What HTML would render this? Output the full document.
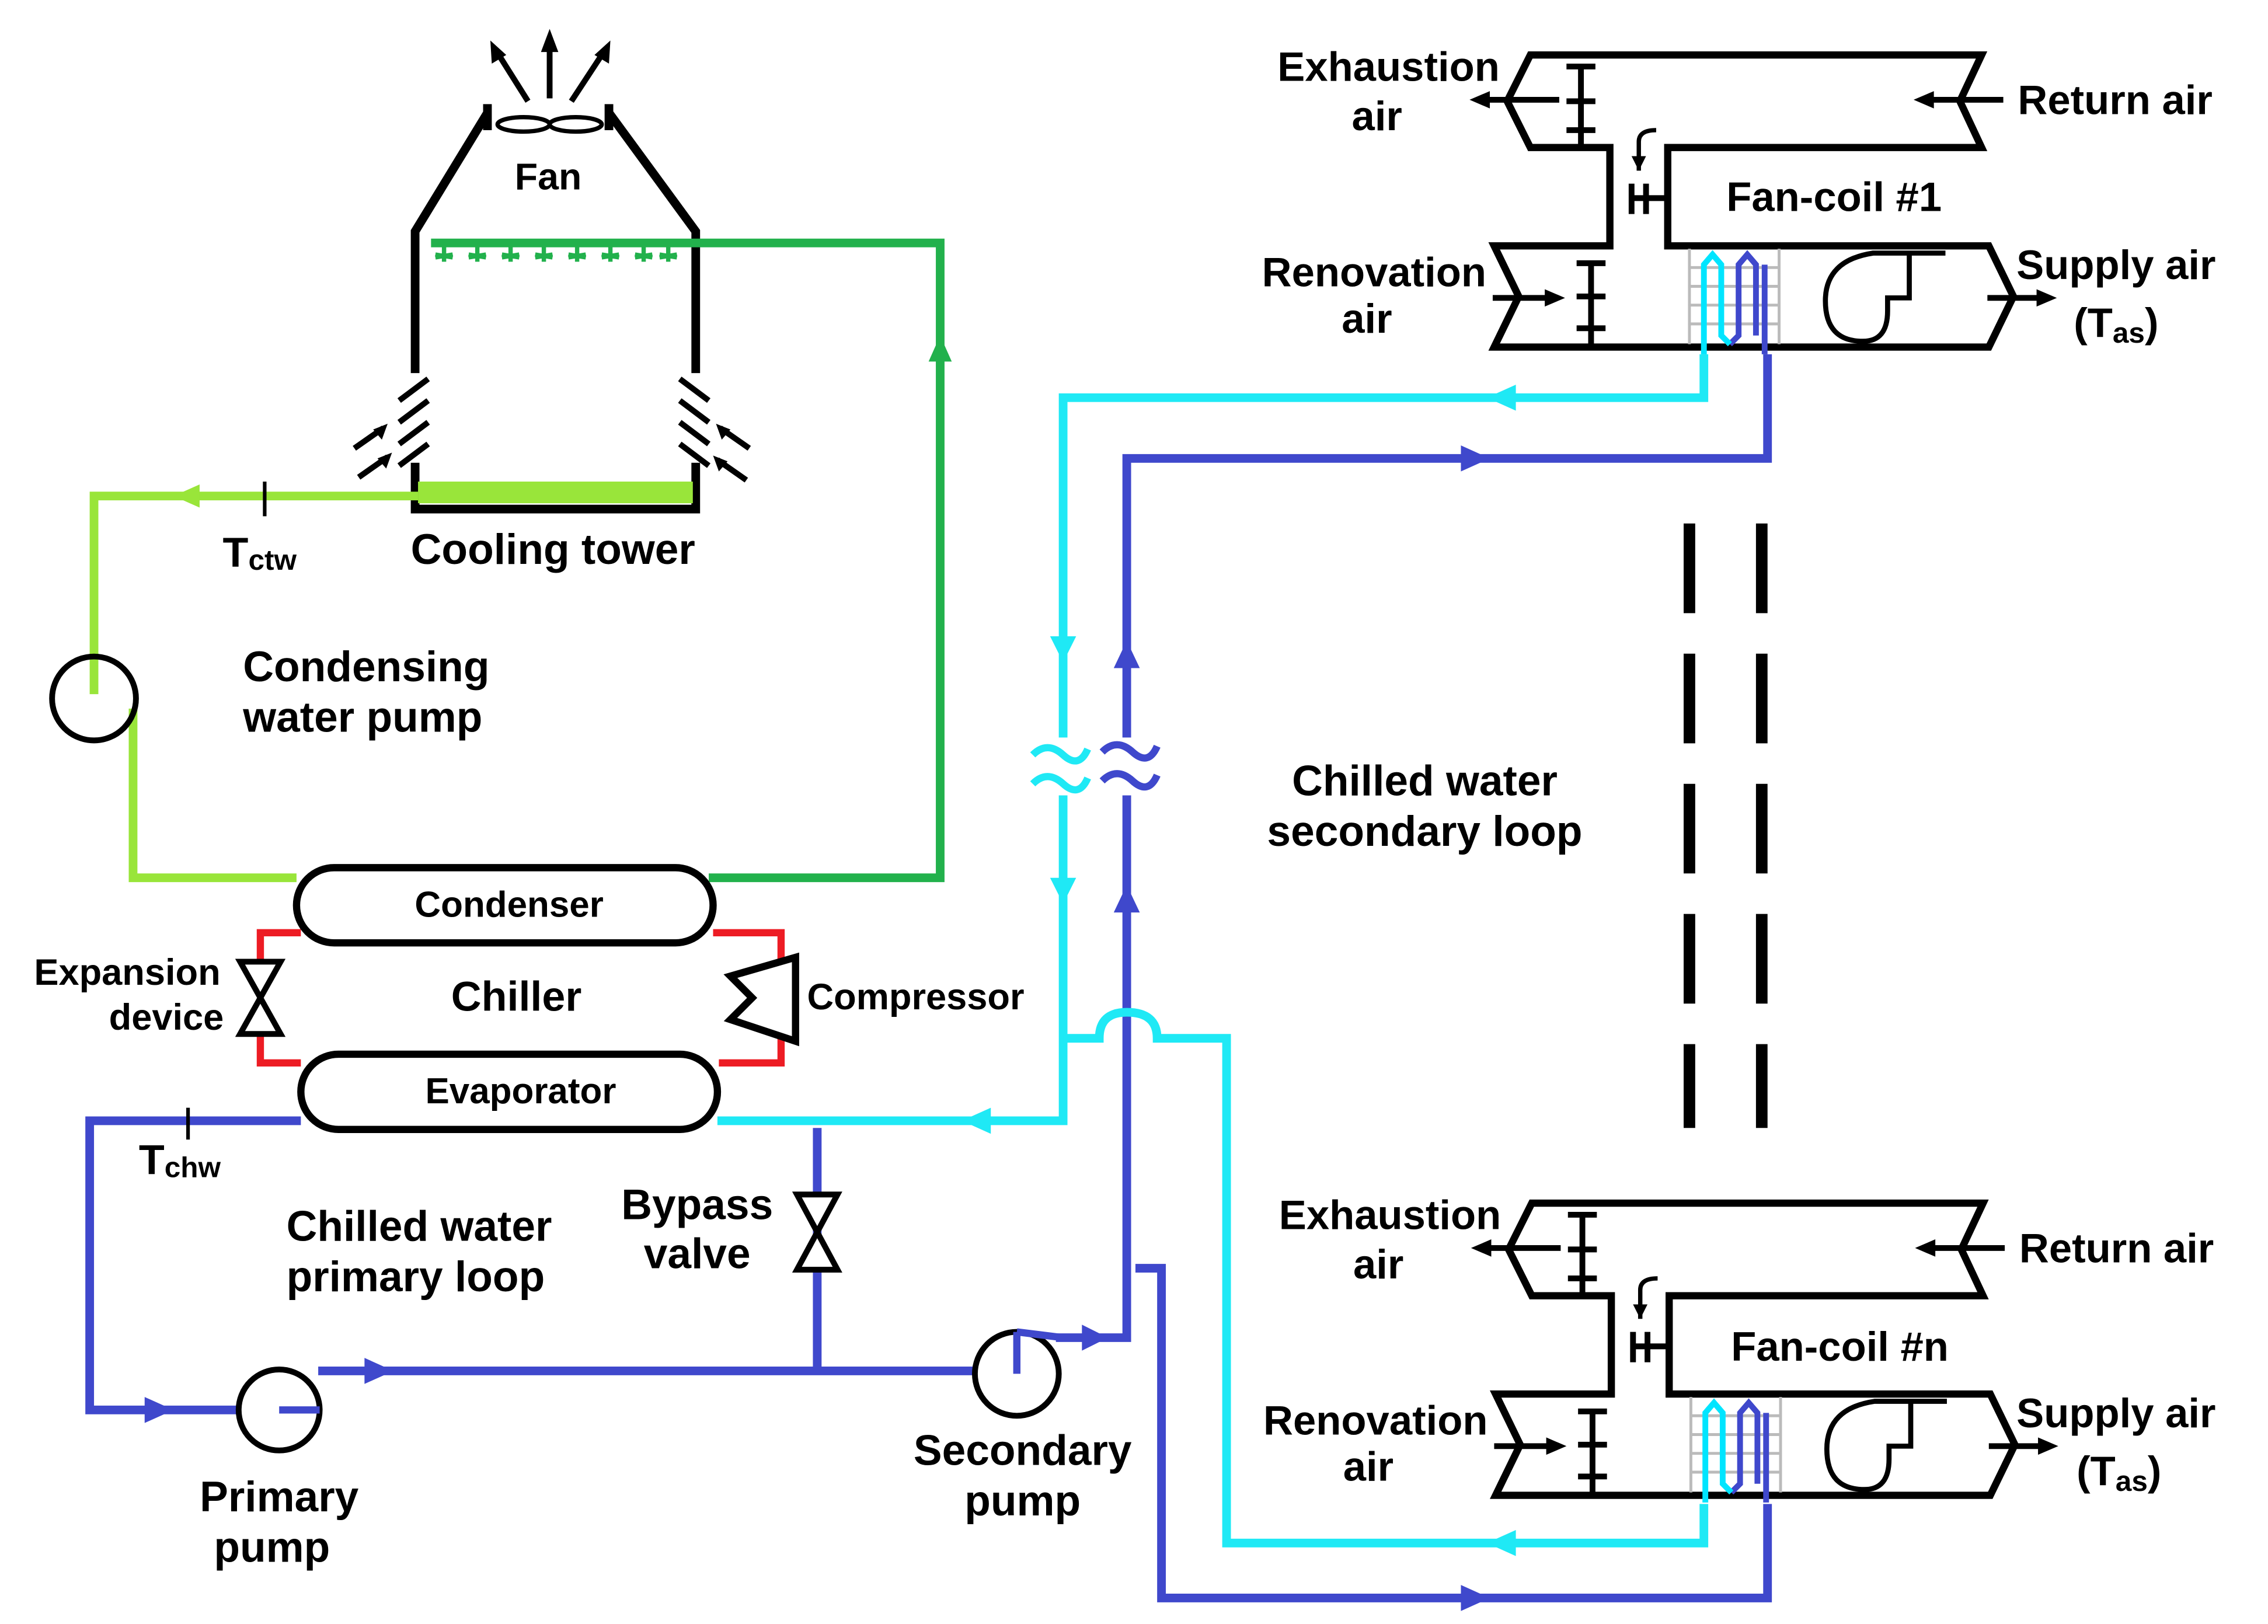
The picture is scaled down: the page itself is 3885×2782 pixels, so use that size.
<!DOCTYPE html>
<html><head><meta charset="utf-8">
<style>html,body{margin:0;padding:0;background:#fff}svg{display:block}
text{font-family:"Liberation Sans",sans-serif;font-weight:bold;fill:#000}</style></head>
<body>
<svg width="3885" height="2782" viewBox="0 0 1568 1123" preserveAspectRatio="none" xmlns="http://www.w3.org/2000/svg">
<defs>
<g id="fc">
  <g fill="none" stroke="#000" stroke-width="5">
    <path d="M1058,38 H1370 L1355,70 L1370,102 H1153 V170 H1375 L1392,205 L1375,240 H1033 L1050,205 L1033,170 H1113 V102 H1058 L1042,70 Z"/>
  </g>
  <g stroke="#000" stroke-width="4">
    <line x1="1093" y1="46" x2="1093" y2="100"/><line x1="1083" y1="46" x2="1103" y2="46"/><line x1="1083" y1="70" x2="1103" y2="70"/><line x1="1083" y1="90" x2="1103" y2="90"/>
    <line x1="1100" y1="182" x2="1100" y2="238"/><line x1="1090" y1="182" x2="1110" y2="182"/><line x1="1090" y1="205" x2="1110" y2="205"/><line x1="1090" y1="227" x2="1110" y2="227"/>
    <line x1="1128" y1="127" x2="1128" y2="148"/><line x1="1138" y1="127" x2="1138" y2="148"/><line x1="1128" y1="137" x2="1153" y2="137"/>
    <path d="M1133,118 V98 Q1133,90 1145,90" fill="none" stroke-width="3"/>
  </g>
  <polygon points="1128,108 1138,108 1133,118" fill="#000"/>
  <g stroke="#000" stroke-width="4">
    <line x1="1028" y1="69" x2="1078" y2="69"/><line x1="1335" y1="69" x2="1385" y2="69"/>
    <line x1="1032" y1="206" x2="1072" y2="206"/><line x1="1374" y1="206" x2="1412" y2="206"/>
  </g>
  <polygon points="1016,69 1030,63 1030,75" fill="#000"/>
  <polygon points="1323,69 1337,63 1337,75" fill="#000"/>
  <polygon points="1082,206 1068,200 1068,212" fill="#000"/>
  <polygon points="1422,206 1408,200 1408,212" fill="#000"/>
  <g stroke="#bbb" stroke-width="2">
    <line x1="1168" y1="172" x2="1168" y2="238"/><line x1="1230" y1="172" x2="1230" y2="238"/>
    <line x1="1168" y1="185" x2="1230" y2="185"/><line x1="1168" y1="198" x2="1230" y2="198"/><line x1="1168" y1="211" x2="1230" y2="211"/><line x1="1168" y1="224" x2="1230" y2="224"/>
  </g>
  <path d="M1214,232 V183 L1208,176 L1202,183 V232 L1196,238" fill="none" stroke="#3f48cc" stroke-width="4"/>
  <path d="M1178,245 V183 L1184,176 L1190,183 V232 L1196,238" fill="none" stroke="#00e5ff" stroke-width="4"/>
  <path d="M1220,183 V245" fill="none" stroke="#3f48cc" stroke-width="4"/>
  <path d="M1345,175 H1295 Q1262,180 1262,208 Q1262,236 1288,236 Q1305,236 1305,215 V206 H1320 V175" fill="none" stroke="#000" stroke-width="3.5"/>
</g>
</defs>

<g fill="none" stroke="#000" stroke-width="6">
  <path d="M337,78 L287,160 V258"/>
  <path d="M421,78 L481,160 V258"/>
  <path d="M287,320 V352 H481 V320"/>
</g>
<g stroke="#000" stroke-width="4">
  <line x1="276" y1="277" x2="296" y2="262"/><line x1="276" y1="292" x2="296" y2="277"/><line x1="276" y1="307" x2="296" y2="292"/><line x1="276" y1="322" x2="296" y2="307"/>
  <line x1="470" y1="262" x2="490" y2="277"/><line x1="470" y1="277" x2="490" y2="292"/><line x1="470" y1="292" x2="490" y2="307"/><line x1="470" y1="307" x2="490" y2="322"/>
  <line x1="245" y1="310" x2="265" y2="296"/><line x1="248" y1="330" x2="268" y2="316"/>
  <line x1="518" y1="310" x2="498" y2="296"/><line x1="516" y1="332" x2="496" y2="318"/>
  <line x1="380" y1="68" x2="380" y2="28"/><line x1="365" y1="70" x2="343" y2="35"/><line x1="395" y1="70" x2="418" y2="35"/>
</g>
<polygon points="268,293 258,297 264,304" fill="#000"/><polygon points="271,313 261,317 267,324" fill="#000"/>
<polygon points="495,293 505,297 499,304" fill="#000"/><polygon points="493,315 503,319 497,326" fill="#000"/>
<polygon points="380,20 374,36 386,36" fill="#000"/><polygon points="339,28 340,44 350,38" fill="#000"/><polygon points="422,28 411,38 421,44" fill="#000"/>
<g fill="none" stroke="#000" stroke-width="3">
  <ellipse cx="362" cy="86" rx="18" ry="5"/><ellipse cx="398" cy="86" rx="18" ry="5"/>
</g>
<line x1="337" y1="72" x2="337" y2="90" stroke="#000" stroke-width="6"/><line x1="421" y1="72" x2="421" y2="90" stroke="#000" stroke-width="6"/>
<text x="379" y="131" font-size="26" text-anchor="middle">Fan</text>

<path d="M298,168 H650 V607 H490" fill="none" stroke="#22b14c" stroke-width="6"/>
<polygon points="650,232 642,250 658,250" fill="#22b14c"/>
<g stroke="#22b14c" stroke-width="3">
  <path d="M307,170 V181 M301,178 L313,176 M301,176 L313,178 M330,170 V181 M324,178 L336,176 M324,176 L336,178 M353,170 V181 M347,178 L359,176 M347,176 L359,178 M376,170 V181 M370,178 L382,176 M370,176 L382,178 M399,170 V181 M393,178 L405,176 M393,176 L405,178 M422,170 V181 M416,178 L428,176 M416,176 L428,178 M445,170 V181 M439,178 L451,176 M439,176 L451,178 M462,170 V181 M456,178 L468,176 M456,176 L468,178"/>
</g>
<rect x="289" y="333" width="190" height="15" fill="#99e53a"/>
<path d="M289,343 H65 V480 M92,490 V607 H205" fill="none" stroke="#99e53a" stroke-width="6"/>
<polygon points="120,343 138,335 138,351" fill="#99e53a"/>
<line x1="183" y1="333" x2="183" y2="357" stroke="#000" stroke-width="2.5"/>
<circle cx="65" cy="483" r="29" fill="none" stroke="#000" stroke-width="4"/>
<text x="154" y="392" font-size="29">T<tspan font-size="20" dy="2">ctw</tspan></text>
<text x="284" y="390" font-size="29.5">Cooling tower</text>
<text x="168" y="471" font-size="29.5">Condensing</text>
<text x="168" y="506" font-size="29.5">water pump</text>

<path d="M180,665 V645 H208 M493,645 H540 V735 H497 M208,735 H180 V715" fill="none" stroke="#ed1c24" stroke-width="5"/>
<rect x="205" y="600" width="288" height="52" rx="26" fill="#fff" stroke="#000" stroke-width="5"/>
<rect x="208" y="729" width="288" height="52" rx="26" fill="#fff" stroke="#000" stroke-width="5"/>
<text x="352" y="634" font-size="25" text-anchor="middle">Condenser</text>
<text x="360" y="763" font-size="25" text-anchor="middle">Evaporator</text>
<text x="357" y="699" font-size="29" text-anchor="middle">Chiller</text>
<path d="M166,665 H194 L166,715 H194 Z" fill="#fff" stroke="#000" stroke-width="4"/>
<path d="M550,662 V720 L505,705 L520,690 L505,675 Z" fill="#fff" stroke="#000" stroke-width="5"/>
<text x="558" y="698" font-size="25.5">Compressor</text>
<text x="88" y="681" font-size="25.5" text-anchor="middle">Expansion</text>
<text x="115" y="712" font-size="25.5" text-anchor="middle">device</text>

<g fill="none" stroke="#3f48cc" stroke-width="6">
  <path d="M208,775 H62 V975 H165"/>
  <path d="M220,948 H675"/>
  <path d="M565,780 V948"/>
  <path d="M730,925 H779 V317 H1222 V245"/>
  <path d="M785,877 H803 V1105 H1222 V1040"/>
</g>
<g fill="#3f48cc">
  <polygon points="120,975 100,966 100,984"/><polygon points="272,948 252,939 252,957"/>
  <polygon points="766,925 748,916 748,934"/><polygon points="1030,317 1010,308 1010,326"/>
  <polygon points="1030,1105 1010,1096 1010,1114"/>
  <polygon points="779,443 770,462 788,462"/><polygon points="779,612 770,631 788,631"/>
</g>
<line x1="130" y1="766" x2="130" y2="788" stroke="#000" stroke-width="2.5"/>
<circle cx="193" cy="975" r="28" fill="#fff" stroke="#000" stroke-width="4"/>
<line x1="193" y1="975" x2="221" y2="975" stroke="#3f48cc" stroke-width="5"/>
<circle cx="703" cy="950" r="29" fill="#fff" stroke="#000" stroke-width="4"/>
<line x1="703" y1="950" x2="703" y2="921" stroke="#3f48cc" stroke-width="5"/>
<line x1="703" y1="921" x2="735" y2="925" stroke="#3f48cc" stroke-width="5"/>
<path d="M551,826 H579 L551,878 H579 Z" fill="#fff" stroke="#000" stroke-width="4"/>
<text x="96" y="812" font-size="29">T<tspan font-size="20" dy="2">chw</tspan></text>
<text x="198" y="858" font-size="29.5">Chilled water</text>
<text x="198" y="893" font-size="29.5">primary loop</text>
<text x="482" y="843" font-size="29.5" text-anchor="middle">Bypass</text>
<text x="482" y="877" font-size="29.5" text-anchor="middle">valve</text>
<text x="193" y="1045" font-size="29.5" text-anchor="middle">Primary</text>
<text x="188" y="1080" font-size="29.5" text-anchor="middle">pump</text>
<text x="707" y="1013" font-size="29.5" text-anchor="middle">Secondary</text>
<text x="707" y="1048" font-size="29.5" text-anchor="middle">pump</text>

<g fill="none" stroke="#1fe9f5" stroke-width="6">
  <path d="M496,775 H735 V275 H1178 V245"/>
  <path d="M735,718 H760 Q760,700 779,700 Q800,700 800,718 H848 V1067 H1178 V1040"/>
</g>
<g fill="#1fe9f5">
  <polygon points="665,775 685,766 685,784"/><polygon points="1028,275 1048,266 1048,284"/>
  <polygon points="1028,1067 1048,1058 1048,1076"/>
  <polygon points="735,458 726,440 744,440"/><polygon points="735,625 726,607 744,607"/>
</g>
<rect x="712" y="510" width="90" height="40" fill="#fff"/>
<g fill="none" stroke-width="5">
  <path d="M714,522 Q724,512 735,522 Q746,532 752,518" stroke="#1fe9f5"/>
  <path d="M714,542 Q724,532 735,542 Q746,552 752,538" stroke="#1fe9f5"/>
  <path d="M762,520 Q772,510 783,520 Q794,530 800,516" stroke="#3f48cc"/>
  <path d="M762,540 Q772,530 783,540 Q794,550 800,536" stroke="#3f48cc"/>
</g>
<text x="985" y="550" font-size="29.5" text-anchor="middle">Chilled water</text>
<text x="985" y="585" font-size="29.5" text-anchor="middle">secondary loop</text>

<g stroke="#000" stroke-width="8" stroke-dasharray="62,28">
  <line x1="1168" y1="362" x2="1168" y2="780"/><line x1="1218" y1="362" x2="1218" y2="780"/>
</g>

<use href="#fc"/>
<use href="#fc" transform="translate(1,794)"/>
<g font-size="28.5">
<text x="960" y="56" text-anchor="middle">Exhaustion</text>
<text x="952" y="90" text-anchor="middle">air</text>
<text x="1395" y="79">Return air</text>
<text x="1268" y="146" text-anchor="middle">Fan-coil #1</text>
<text x="950" y="198" text-anchor="middle">Renovation</text>
<text x="945" y="230" text-anchor="middle">air</text>
<text x="1463" y="193" text-anchor="middle">Supply air</text>
<text x="1463" y="233" text-anchor="middle">(T<tspan font-size="20" dy="4">as</tspan><tspan dy="-4">)</tspan></text>
<text x="961" y="850" text-anchor="middle">Exhaustion</text>
<text x="953" y="884" text-anchor="middle">air</text>
<text x="1396" y="873">Return air</text>
<text x="1272" y="941" text-anchor="middle">Fan-coil #n</text>
<text x="951" y="992" text-anchor="middle">Renovation</text>
<text x="946" y="1024" text-anchor="middle">air</text>
<text x="1463" y="987" text-anchor="middle">Supply air</text>
<text x="1465" y="1027" text-anchor="middle">(T<tspan font-size="20" dy="4">as</tspan><tspan dy="-4">)</tspan></text>
</g>
</svg>
</body></html>
